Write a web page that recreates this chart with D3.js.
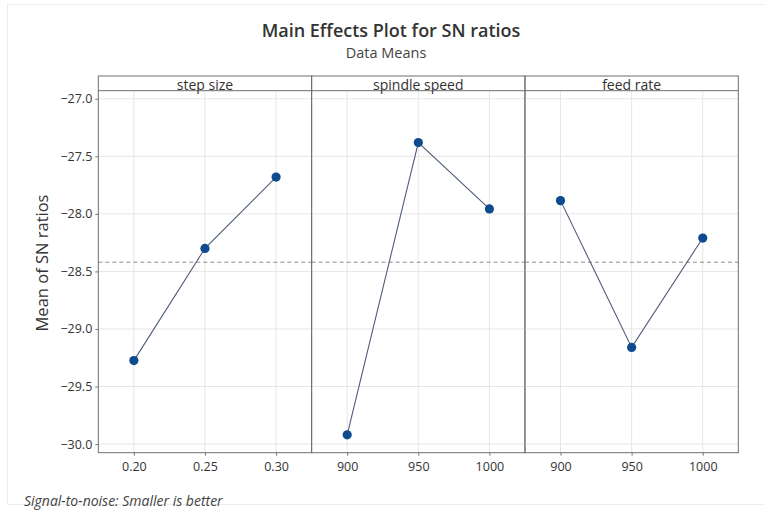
<!DOCTYPE html>
<html>
<head>
<meta charset="utf-8">
<script src="https://cdn.jsdelivr.net/npm/d3@7"></script>
<style>
  body { margin: 0; background: #fff; }
  text { font-family: "Open Sans", "Noto Sans", sans-serif; fill: #333; }
</style>
</head>
<body>
<svg id="chart" width="764" height="513"></svg>
<script>
// factors and their levels
var factors = ["step size", "spindle speed", "feed rate"];
var stepLevels = ["0.20", "0.25", "0.30"];
var spindleLevels = ["900", "950", "1000"];
var feedLevels = ["900", "950", "1000"];
// mean SN ratio for each level
var stepMeans = [-29.275, -28.30, -27.68];
var spindleMeans = [-29.92, -27.38, -27.957];
var feedMeans = [-27.885, -29.16, -28.21];
var yTicks = [-27.0, -27.5, -28.0, -28.5, -29.0, -29.5, -30.0];
var grandMean = -28.42;

var levels = [stepLevels, spindleLevels, feedLevels];
var means = [stepMeans, spindleMeans, feedMeans];

var svg = d3.select("#chart");

// plot box (note: "top" is taken by window.top, so use other names)
var boxLeft = 98.3, boxRight = 738.3, boxTop = 76, stripH = 14.7, boxBottom = 452.7;
var panelW = (boxRight - boxLeft) / factors.length;

// faint window frame
svg.append("rect")
  .attr("x", 7.5).attr("y", 4.5)
  .attr("width", 800).attr("height", 500)
  .attr("fill", "none").attr("stroke", "#ececec");

var y = d3.scaleLinear()
  .domain([-26.93, -30.075])
  .range([boxTop + stripH, boxBottom]);

// titles
svg.append("text")
  .attr("x", 391).attr("y", 37)
  .attr("text-anchor", "middle")
  .style("font-size", "18px").style("font-weight", 600)
  .text("Main Effects Plot for SN ratios");
svg.append("text")
  .attr("x", 386).attr("y", 58)
  .attr("text-anchor", "middle")
  .style("font-size", "14.5px").style("fill", "#444")
  .text("Data Means");

// y axis label
svg.append("text")
  .attr("transform", "translate(48,263) rotate(-90)")
  .attr("text-anchor", "middle")
  .style("font-size", "16.5px").style("font-weight", 500)
  .text("Mean of SN ratios");

// footer
svg.append("text")
  .attr("x", 24).attr("y", 506)
  .style("font-size", "14px").style("font-style", "italic").style("fill", "#444")
  .text("Signal-to-noise: Smaller is better");

factors.forEach(function (f, i) {
  var x0 = boxLeft + i * panelW;
  var x = d3.scalePoint()
    .domain(levels[i])
    .range([x0, x0 + panelW])
    .padding(0.5);

  var g = svg.append("g");

  // grid
  g.selectAll(".hg").data(yTicks).enter().append("line")
    .attr("x1", x0).attr("x2", x0 + panelW)
    .attr("y1", function (d) { return y(d); })
    .attr("y2", function (d) { return y(d); })
    .attr("stroke", "#e6e6e6");
  g.selectAll(".vg").data(levels[i]).enter().append("line")
    .attr("x1", function (d) { return x(d); })
    .attr("x2", function (d) { return x(d); })
    .attr("y1", boxTop + stripH).attr("y2", boxBottom)
    .attr("stroke", "#e6e6e6");

  // reference line (overall mean)
  g.append("line")
    .attr("x1", x0).attr("x2", x0 + panelW)
    .attr("y1", y(grandMean)).attr("y2", y(grandMean))
    .attr("stroke", "#8c8c8c").attr("stroke-dasharray", "4,3");

  // x axis
  var xa = g.append("g")
    .attr("transform", "translate(0," + boxBottom + ")")
    .call(d3.axisBottom(x).tickSize(3).tickPadding(6));
  xa.select(".domain").remove();
  xa.selectAll("line").attr("stroke", "#777");
  xa.selectAll("text").style("font-size", "12.5px").style("fill", "#333");

  // line and points
  var pts = levels[i].map(function (l, j) { return [l, means[i][j]]; });
  g.append("path")
    .datum(pts)
    .attr("fill", "none")
    .attr("stroke", "#4f5d7a")
    .attr("stroke-width", 1.1)
    .attr("d", d3.line()
      .x(function (d) { return x(d[0]); })
      .y(function (d) { return y(d[1]); }));
  g.selectAll("circle").data(pts).enter().append("circle")
    .attr("cx", function (d) { return x(d[0]); })
    .attr("cy", function (d) { return y(d[1]); })
    .attr("r", 4.6)
    .attr("fill", "#0d4a8e");

  // panel frame and strip
  g.append("rect")
    .attr("x", x0).attr("y", boxTop)
    .attr("width", panelW).attr("height", boxBottom - boxTop)
    .attr("fill", "none").attr("stroke", "#6e6e6e");
  g.append("line")
    .attr("x1", x0).attr("x2", x0 + panelW)
    .attr("y1", boxTop + stripH).attr("y2", boxTop + stripH)
    .attr("stroke", "#6e6e6e");
  g.append("text")
    .attr("x", x0 + panelW / 2).attr("y", boxTop + stripH - 0.5)
    .attr("text-anchor", "middle")
    .style("font-size", "14px")
    .text(f);
});

// y axis
var ya = svg.append("g")
  .attr("transform", "translate(" + boxLeft + ",0)")
  .call(d3.axisLeft(y).tickValues(yTicks).tickFormat(d3.format(".1f")).tickSize(3).tickPadding(3));
ya.select(".domain").remove();
ya.selectAll("line").attr("stroke", "#777");
ya.selectAll("text").style("font-size", "12.5px").style("fill", "#333");
</script>
</body>
</html>
